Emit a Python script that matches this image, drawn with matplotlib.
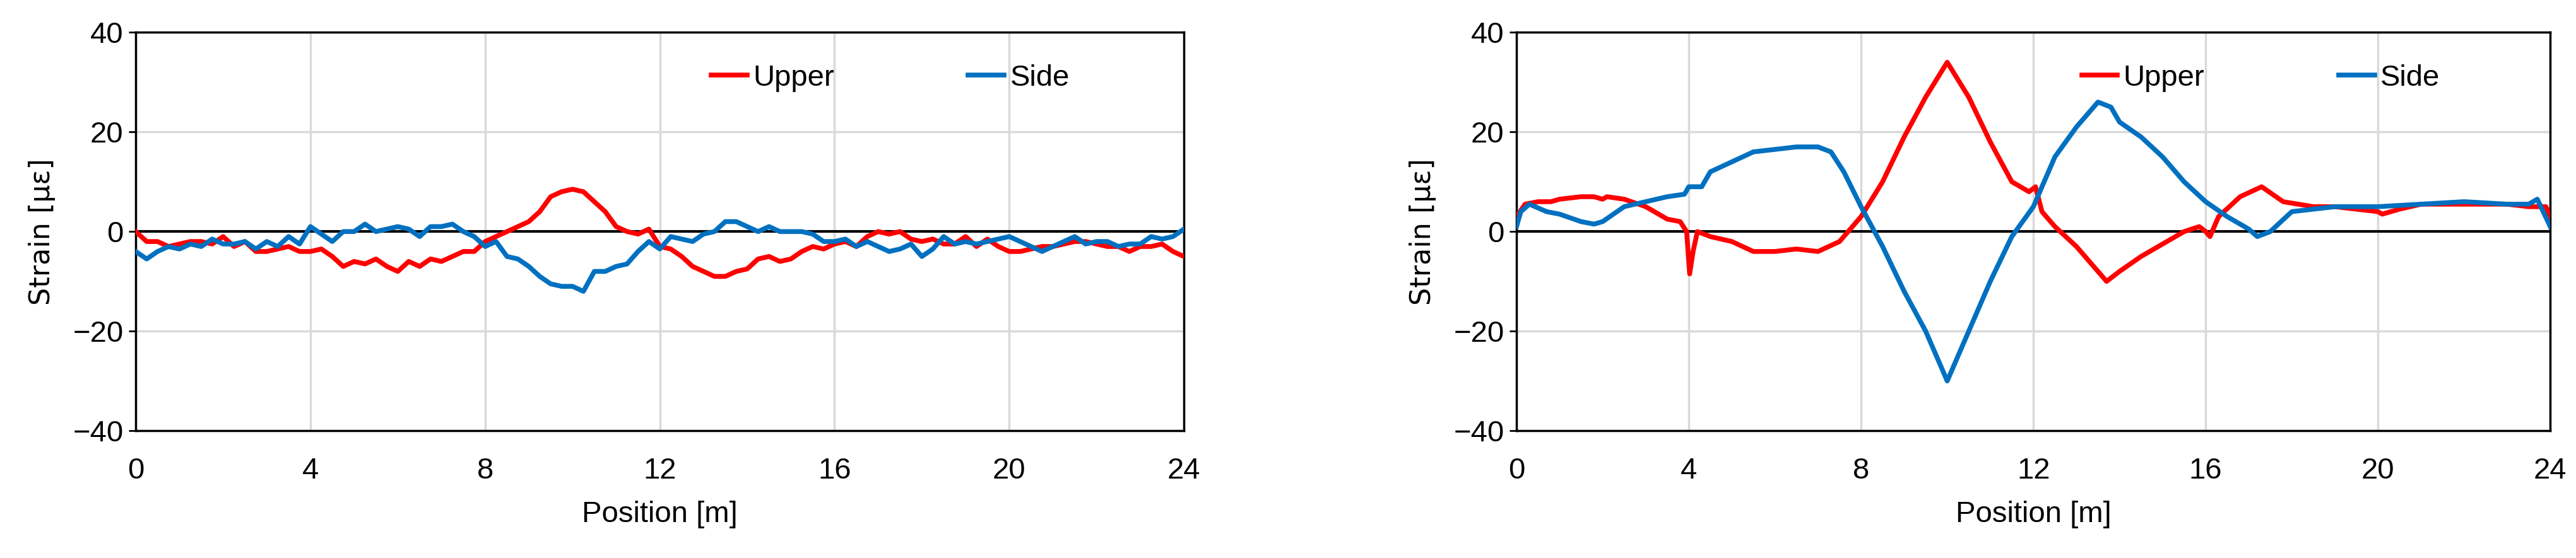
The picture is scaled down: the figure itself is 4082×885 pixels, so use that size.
import numpy as np
import matplotlib
matplotlib.use("Agg")
import matplotlib.pyplot as plt

plt.rcParams['font.family'] = ['Liberation Sans Narrow', 'Liberation Sans', 'DejaVu Sans']

left_upper = [0,-2,-2,-3,-2.5,-2,-2,-2.5,-1,-3,-2,-4,-4,-3.5,-3,-4,-4,-3.5,-5,-7,-6,-6.5,-5.5,-7,-8,-6,-7,-5.5,-6,-5,-4,-4,
              -2,-1,0,1,2,4,7,8,8.5,8,6,4,1,0,-0.5,0.5,-3,-3.5,-5,-7,-8,-9,-9,-8,-7.5,-5.5,-5,-6,-5.5,-4,-3,-3.5,
              -2.5,-2,-3,-1,0,-0.5,0,-1.5,-2,-1.5,-2.5,-2.5,-1,-3,-1.5,-3,-4,-4,-3.5,-3,-3,-2.5,-2,-2,-2.5,-3,-3,-4,-3,-3,-2.5,-4,-5]
left_side = [-4,-5.5,-4,-3,-3.5,-2.5,-3,-1.5,-2.5,-2.5,-2,-3.5,-2,-3,-1,-2.5,1,-0.5,-2,0,0,1.5,0,0.5,1,0.5,-1,1,1,1.5,0,-1,
             -3,-2,-5,-5.5,-7,-9,-10.5,-11,-11,-12,-8,-8,-7,-6.5,-4,-2,-3.5,-1,-1.5,-2,-0.5,0,2,2,1,0,1,0,0,0,
             -0.5,-2,-2,-1.5,-3,-2,-3,-4,-3.5,-2.5,-5,-3.5,-1,-2.5,-2,-2.5,-2,-1.5,-1,-2,-3,-4,-3,-2,-1,-2.5,-2,-2,-3,-2.5,-2.5,-1,-1.5,-1,0.5]

ru_x = [0,0.2,0.5,0.8,1,1.5,1.8,2,2.1,2.5,3,3.5,3.8,3.95,4.02,4.1,4.2,4.5,5,5.5,6,6.5,7,7.5,8,8.5,9,9.5,10,10.5,11,11.5,11.9,12.05,12.2,12.5,
        13,13.5,13.7,14,14.5,15,15.5,15.85,16,16.1,16.3,16.8,17.3,17.8,18.5,19,19.5,20,20.1,20.5,21,22,23,23.5,23.9,24]
ru_y = [3,5.5,6,6,6.5,7,7,6.5,7,6.5,5,2.5,2,0,-8.5,-4,0,-1,-2,-4,-4,-3.5,-4,-2,3,10,19,27,34,27,18,10,8,9,4,1,
        -3,-8,-10,-8,-5,-2.5,0,1,0,-1,3,7,9,6,5,5,4.5,4,3.5,4.5,5.5,5.5,5.5,5,5,3]
rs_x = [0,0.1,0.3,0.7,1,1.5,1.8,2,2.5,3,3.5,3.9,4,4.3,4.5,5,5.5,6,6.5,7,7.3,7.6,8,8.5,9,9.5,10,10.5,11,11.5,12,12.5,13,13.5,13.8,
        14,14.5,15,15.5,16,16.5,17,17.2,17.5,18,18.5,19,20,21,22,23,23.5,23.7,24]
rs_y = [1,4,5.5,4,3.5,2,1.5,2,5,6,7,7.5,9,9,12,14,16,16.5,17,17,16,12,5,-3,-12,-20,-30,-20,-10,-1,5,15,21,26,25,
        22,19,15,10,6,3,0.5,-1,0,4,4.5,5,5,5.5,6,5.5,5.5,6.5,1]

RED = '#FF0000'
BLUE = '#0070C0'

fig = plt.figure(figsize=(40.82, 8.85), dpi=100)
axes = [fig.add_axes([0.0527, 0.228, 0.4069, 0.714]),
        fig.add_axes([0.5887, 0.228, 0.4013, 0.714])]
data = [(np.linspace(0, 24, len(left_upper)), left_upper, np.linspace(0, 24, len(left_side)), left_side),
        (ru_x, ru_y, rs_x, rs_y)]

for ax, (ux, uy, sx, sy) in zip(axes, data):
    ax.axhline(0, color='black', lw=3, zorder=2)
    ax.plot(ux, uy, color=RED, lw=5.5, label='Upper', zorder=3)
    ax.plot(sx, sy, color=BLUE, lw=5.5, label='Side', zorder=3)
    ax.set_xlim(0, 24)
    ax.set_ylim(-40, 40)
    ax.set_xticks(range(0, 25, 4))
    ax.set_yticks(range(-40, 41, 20))
    ax.grid(True, color='#D9D9D9', lw=2.5)
    ax.set_axisbelow(True)
    for s in ax.spines.values():
        s.set_linewidth(2.5)
    ax.tick_params(axis='y', length=8, width=2, labelsize=34, pad=6)
    ax.tick_params(axis='x', length=0, labelsize=34, pad=30)
    ax.set_xlabel('Position [m]', fontsize=34, labelpad=18)
    ax.set_ylabel('Strain [με]', fontsize=32, family=['DejaVu Sans'], labelpad=20)
    ax.legend(loc='center', bbox_to_anchor=(0.72, 0.885), ncol=2, frameon=False, fontsize=34,
              handlelength=1.2, handletextpad=0.2, columnspacing=4.5)

fig.savefig('out.png', dpi=100)
